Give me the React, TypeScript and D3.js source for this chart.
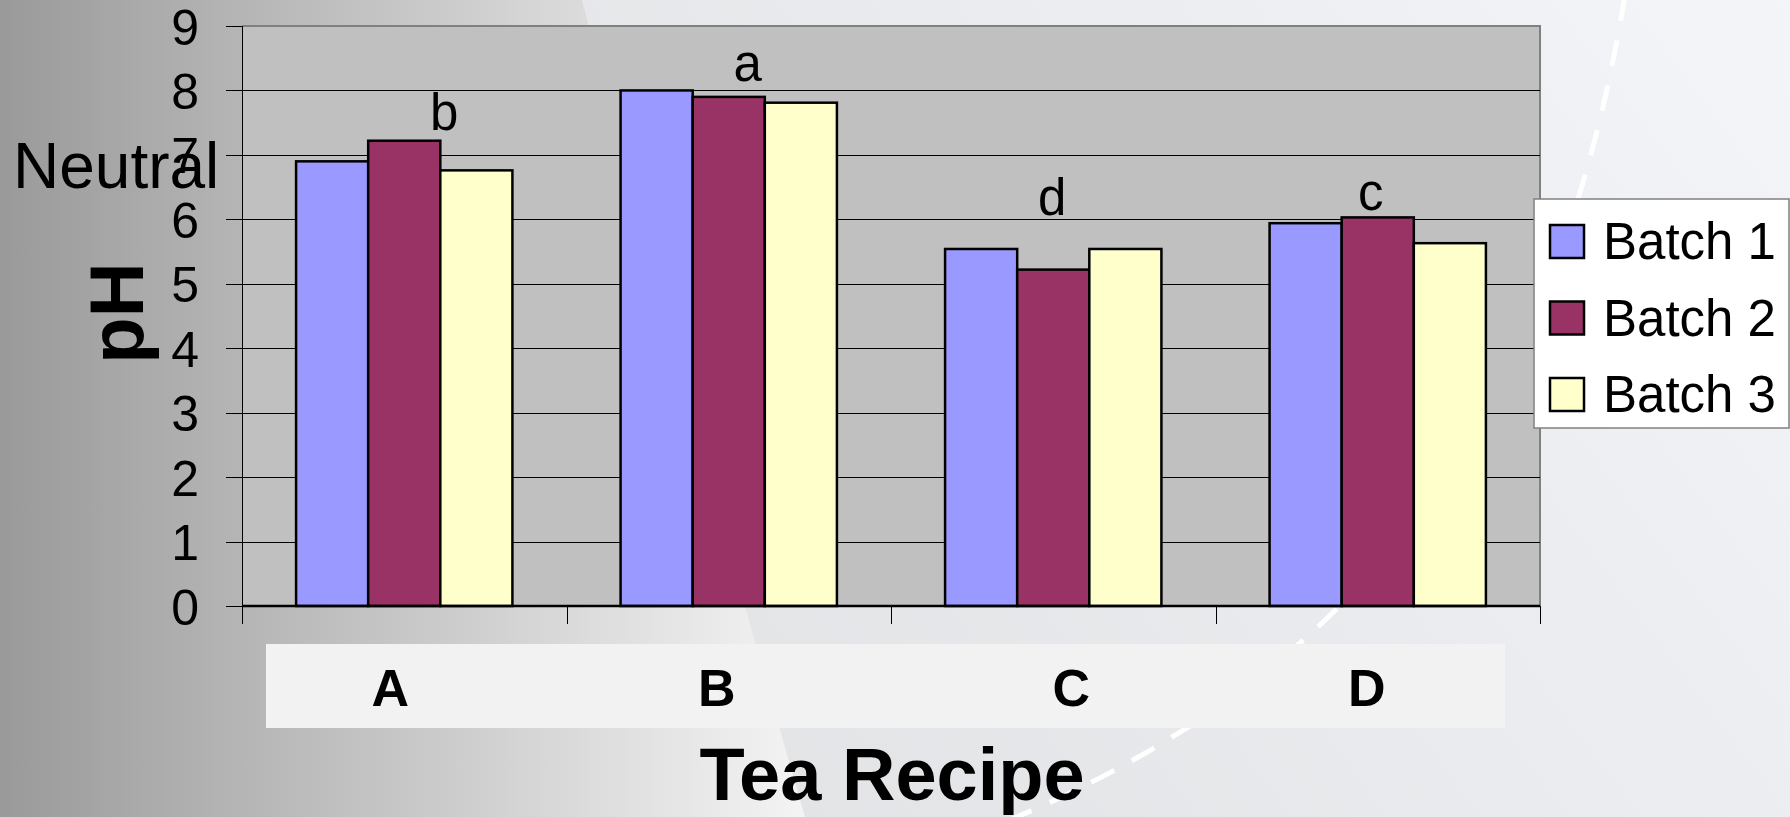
import React from 'react';
import * as d3 from 'd3';

// Tea recipe pH by batch
const categories = ['A', 'B', 'C', 'D'];
const seriesNames = ['Batch 1', 'Batch 2', 'Batch 3'];
const batch1 = [6.9, 8.0, 5.54, 5.94];
const batch2 = [7.22, 7.9, 5.22, 6.03];
const batch3 = [6.76, 7.81, 5.54, 5.63];
const yTicks = [0, 1, 2, 3, 4, 5, 6, 7, 8, 9];
// significance group letters, with the pH level their baseline sits at
const groupLetters = ['b', 'a', 'd', 'c'];
const letterLevels = [7.39, 8.14, 6.07, 6.15];

const seriesColors = ['#9999ff', '#993366', '#ffffcc'];

const W = 1790;
const H = 817;
const FONT = '"Liberation Sans", Arial, sans-serif';

// horizontal nudges (px) for letters and category labels
const letterDx = [40, 19, -1, -7];
const labelDx = [-14, -12, 18, -11];

export default function App() {
  const plot = { left: 242, right: 1540, top: 26, bottom: 606 };
  const values = [batch1, batch2, batch3];

  const x0 = d3.scaleBand<string>().domain(categories).range([plot.left, plot.right]).padding(0);
  const x1 = d3
    .scaleBand<string>()
    .domain(seriesNames)
    .range([0, x0.bandwidth()])
    .paddingInner(0)
    .paddingOuter(0.75);
  const y = d3.scaleLinear().domain([0, 9]).range([plot.bottom, plot.top]);

  const arc = d3.path();
  arc.moveTo(1625, -5);
  arc.bezierCurveTo(1557, 415, 1361, 674, 1005, 822);

  const edge = d3.path();
  edge.moveTo(582, 0);
  edge.quadraticCurveTo(690, 420, 805, 817);
  edge.lineTo(W, H);
  edge.lineTo(W, 0);
  edge.closePath();

  const boundaries = [...categories.map((c) => x0(c) as number), plot.right];

  return (
    <svg
      width={W}
      height={H}
      viewBox={`0 0 ${W} ${H}`}
      style={{ position: 'absolute', left: 0, top: 0, display: 'block' }}
      fontFamily={FONT}
    >
      <defs>
        <linearGradient id="bgLeft" x1="0" y1="0" x2={W} y2="0" gradientUnits="userSpaceOnUse">
          <stop offset="0" stopColor="#9a9a9a" />
          <stop offset="0.45" stopColor="#f4f4f4" />
          <stop offset="1" stopColor="#f4f4f4" />
        </linearGradient>
        <linearGradient id="bgRight" x1="700" y1="817" x2="1790" y2="0" gradientUnits="userSpaceOnUse">
          <stop offset="0" stopColor="#e2e3e5" />
          <stop offset="0.5" stopColor="#e9ebee" />
          <stop offset="1" stopColor="#f3f5f8" />
        </linearGradient>
      </defs>

      {/* slide background */}
      <rect x={0} y={0} width={W} height={H} fill="url(#bgLeft)" />
      <path d={edge.toString()} fill="url(#bgRight)" />
      <path
        d={arc.toString()}
        fill="none"
        stroke="#ffffff"
        strokeWidth={5}
        strokeDasharray="26 20"
      />

      {/* plot area */}
      <rect
        x={plot.left}
        y={plot.top}
        width={plot.right - plot.left}
        height={plot.bottom - plot.top}
        fill="#c0c0c0"
      />
      <path
        d={`M${plot.left},${plot.top}H${plot.right}V${plot.bottom}`}
        fill="none"
        stroke="#808080"
        strokeWidth={2}
      />
      {yTicks
        .filter((t) => t > 0 && t < 9)
        .map((t) => (
          <line
            key={`g${t}`}
            x1={plot.left}
            x2={plot.right}
            y1={Math.round(y(t)) + 0.5}
            y2={Math.round(y(t)) + 0.5}
            stroke="#000"
            strokeWidth={1}
          />
        ))}

      {/* bars */}
      {categories.map((c, ci) => (
        <g key={c} transform={`translate(${x0(c)},0)`}>
          {seriesNames.map((s, si) => {
            const v = values[si][ci];
            return (
              <rect
                key={s}
                x={x1(s)}
                y={y(v)}
                width={x1.bandwidth()}
                height={y(0) - y(v)}
                fill={seriesColors[si]}
                stroke="#000"
                strokeWidth={2.5}
              />
            );
          })}
        </g>
      ))}

      {/* axes */}
      <line x1={plot.left + 0.5} x2={plot.left + 0.5} y1={plot.top} y2={plot.bottom} stroke="#000" strokeWidth={1} />
      {yTicks.map((t) => (
        <line
          key={`yt${t}`}
          x1={plot.left - 16}
          x2={plot.left}
          y1={Math.round(y(t)) + 0.5}
          y2={Math.round(y(t)) + 0.5}
          stroke="#000"
          strokeWidth={1}
        />
      ))}
      <line x1={plot.left} x2={plot.right} y1={plot.bottom} y2={plot.bottom} stroke="#000" strokeWidth={2.5} />
      {boundaries.map((bx, i) => (
        <line
          key={`xt${i}`}
          x1={Math.round(bx) + 0.5}
          x2={Math.round(bx) + 0.5}
          y1={plot.bottom}
          y2={plot.bottom + 18}
          stroke="#000"
          strokeWidth={1}
        />
      ))}

      {/* y tick labels */}
      {yTicks.map((t) => (
        <text key={`yl${t}`} x={199} y={y(t) + 18.5} textAnchor="end" fontSize={50} fill="#000">
          {t}
        </text>
      ))}

      {/* category label strip */}
      <rect x={266} y={644} width={1505 - 266} height={84} fill="#f2f2f2" />
      {categories.map((c, ci) => (
        <text
          key={`cl${c}`}
          x={(x0(c) as number) + x0.bandwidth() / 2 + labelDx[ci]}
          y={706}
          textAnchor="middle"
          fontSize={52}
          fontWeight="bold"
          fill="#000"
        >
          {c}
        </text>
      ))}

      {/* group letters */}
      {groupLetters.map((l, ci) => (
        <text
          key={`lt${ci}`}
          x={(x0(categories[ci]) as number) + x0.bandwidth() / 2 + letterDx[ci]}
          y={y(letterLevels[ci])}
          textAnchor="middle"
          fontSize={51}
          fill="#000"
        >
          {l}
        </text>
      ))}

      {/* neutral marker and axis titles */}
      <text x={13} y={188} fontSize={64} fill="#000">
        Neutral
      </text>
      <text
        transform={`translate(143,313) rotate(-90)`}
        textAnchor="middle"
        fontSize={76}
        fontWeight="bold"
        fill="#000"
      >
        pH
      </text>
      <text x={892} y={800} textAnchor="middle" fontSize={74} fontWeight="bold" fill="#000">
        Tea Recipe
      </text>

      {/* legend */}
      <rect x={1534} y={199} width={W - 1534 - 1} height={229} fill="#ffffff" stroke="#808080" strokeWidth={1.5} />
      {seriesNames.map((s, si) => (
        <g key={`lg${s}`} transform={`translate(1550,${225 + si * 76.5})`}>
          <rect x={0} y={0} width={34} height={33} fill={seriesColors[si]} stroke="#000" strokeWidth={2.5} />
          <text x={53} y={34} fontSize={51} fill="#000">
            {s}
          </text>
        </g>
      ))}
    </svg>
  );
}
